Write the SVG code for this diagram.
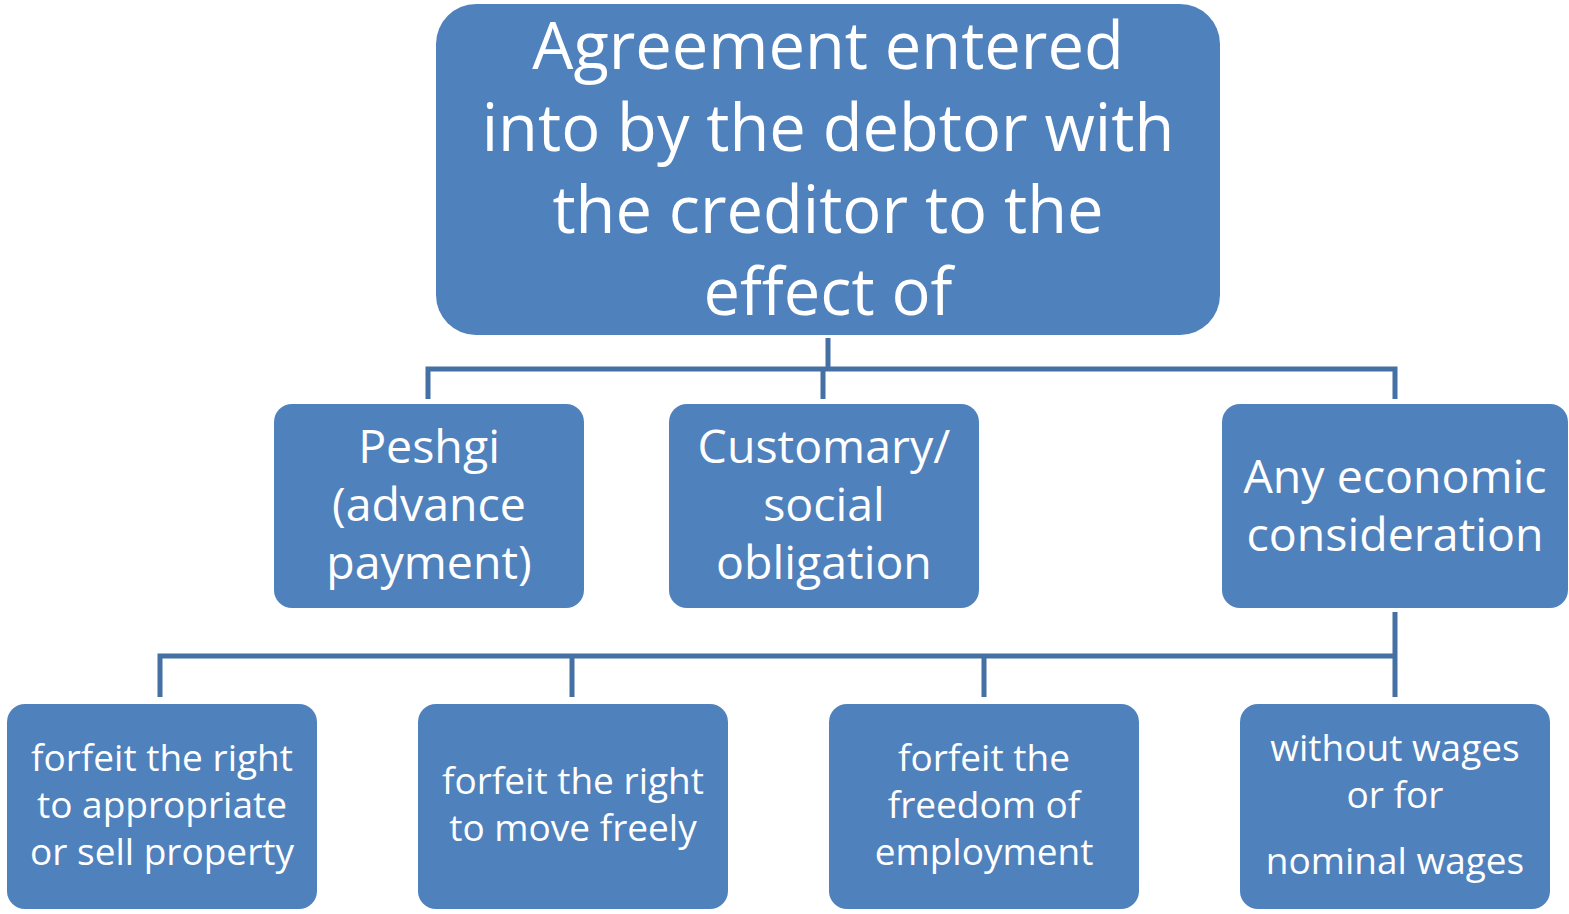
<svg xmlns="http://www.w3.org/2000/svg" width="1569" height="914" viewBox="0 0 1569 914">
<style>
.box{fill:#4F81BD}
.t{fill:#fff;font-family:"Open Sans","Noto Sans",sans-serif;text-anchor:middle}
.l{fill:none;stroke:#4470A4;stroke-width:5}
</style>
<rect width="1569" height="914" fill="#fff"/>
<g id="connectors">
<path class="l" d="M828 338V369M428 399V369H1395V399M823 369V399"/>
<path class="l" d="M1395 612V697M160 697V656H1395M572 656V697M984 656V697"/>
</g>
<g id="top"><rect class="box" x="436" y="4" width="784" height="331" rx="40"/>
<text class="t" font-size="65"><tspan x="828" y="69">Agreement entered</tspan><tspan x="828" y="151">into by the debtor with</tspan><tspan x="828" y="233">the creditor to the</tspan><tspan x="828" y="315">effect of</tspan></text></g>
<g id="peshgi"><rect class="box" x="274" y="404" width="310" height="204" rx="18"/>
<text class="t" font-size="46.5"><tspan x="429" y="463">Peshgi</tspan><tspan x="429" y="521">(advance</tspan><tspan x="429" y="579">payment)</tspan></text></g>
<g id="customary"><rect class="box" x="669" y="404" width="310" height="204" rx="18"/>
<text class="t" font-size="46.5"><tspan x="824" y="463">Customary/</tspan><tspan x="824" y="521">social</tspan><tspan x="824" y="579">obligation</tspan></text></g>
<g id="economic"><rect class="box" x="1222" y="404" width="346" height="204" rx="18"/>
<text class="t" font-size="46.5"><tspan x="1395" y="493">Any economic</tspan><tspan x="1395" y="551">consideration</tspan></text></g>
<g id="property"><rect class="box" x="7" y="704" width="310" height="205" rx="18"/>
<text class="t" font-size="37"><tspan x="162" y="771">forfeit the right</tspan><tspan x="162" y="818">to appropriate</tspan><tspan x="162" y="865">or sell property</tspan></text></g>
<g id="move"><rect class="box" x="418" y="704" width="310" height="205" rx="18"/>
<text class="t" font-size="37"><tspan x="573" y="794">forfeit the right</tspan><tspan x="573" y="841">to move freely</tspan></text></g>
<g id="employment"><rect class="box" x="829" y="704" width="310" height="205" rx="18"/>
<text class="t" font-size="37"><tspan x="984" y="771">forfeit the</tspan><tspan x="984" y="818">freedom of</tspan><tspan x="984" y="865">employment</tspan></text></g>
<g id="wages"><rect class="box" x="1240" y="704" width="310" height="205" rx="18"/>
<text class="t" font-size="37"><tspan x="1395" y="761">without wages</tspan><tspan x="1395" y="808">or for</tspan><tspan x="1395" y="874">nominal wages</tspan></text></g>
</svg>
